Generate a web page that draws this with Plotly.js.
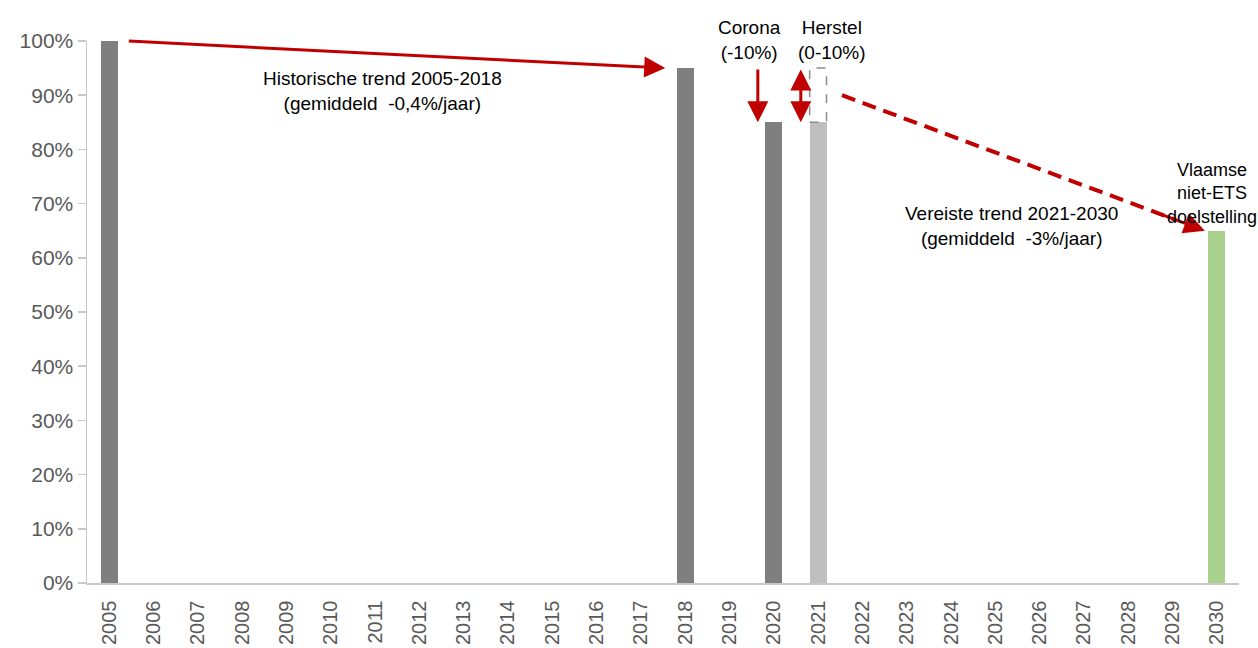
<!DOCTYPE html>
<html><head><meta charset="utf-8">
<script src="https://cdn.plot.ly/plotly-3.0.1.min.js"></script>
<style>html,body{margin:0;padding:0;background:#fff}#chart{width:1258px;height:648px}</style>
</head><body><div id="chart"></div>
<script>
// ---- data ----
const years = [2005,2006,2007,2008,2009,2010,2011,2012,2013,2014,2015,2016,2017,2018,2019,2020,2021,2022,2023,2024,2025,2026,2027,2028,2029,2030];
const barYears = [2005, 2018, 2020, 2021, 2030];
const barValues = [1.00, 0.95, 0.85, 0.85, 0.65];
const barKinds = ['hist', 'hist', 'hist', 'recovery', 'target'];
const recoveryRange = [0.85, 0.95];   // Herstel 0-10%
const dashedTrendStart = 0.90;         // start level of required trend line
const labels = {
  hist: 'Historische trend 2005-2018<br>(gemiddeld  -0,4%/jaar)',
  corona: 'Corona<br>(-10%)',
  herstel: 'Herstel<br>(0-10%)',
  req: 'Vereiste trend 2021-2030<br>(gemiddeld  -3%/jaar)',
  target: 'Vlaamse<br>niet-ETS<br>doelstelling'
};

// ---- styling ----
const kindColor = {hist:'#7f7f7f', recovery:'#bfbfbf', target:'#a9d18e'};
const red = '#c00000';
const bw = 0.38;
const font = 'Liberation Sans, Arial, sans-serif';

const val = y => barValues[barYears.indexOf(y)];

const traces = [{
  type:'bar', x: barYears, y: barValues, width: bw,
  marker:{color: barKinds.map(k => kindColor[k])},
  hoverinfo:'skip'
}];

// dashed required trend line (2021 -> 2030)
const dStart = [2021 + 0.54, dashedTrendStart];
const dEnd = [2030 - 0.27, val(2030)];
const frac = 0.92;
traces.push({
  type:'scatter', mode:'lines',
  x:[dStart[0], dStart[0] + (dEnd[0]-dStart[0])*frac],
  y:[dStart[1], dStart[1] + (dEnd[1]-dStart[1])*frac],
  line:{color:red, width:4, dash:'14px,8px'}, hoverinfo:'skip'
});

const arrowBase = {showarrow:true, arrowhead:2, arrowsize:1.4, arrowwidth:3, arrowcolor:red,
  xref:'x', yref:'y', axref:'x', ayref:'y', text:''};

const annotations = [
  Object.assign({}, arrowBase, {x:2018 - 0.45, y:val(2018), ax:2005 + 0.41, ay:val(2005)}),
  Object.assign({}, arrowBase, {x:2019.64, y:val(2020), ax:2019.64, ay:val(2018)}),
  Object.assign({}, arrowBase, {x:2020.61, y:recoveryRange[0], ax:2020.61, ay:recoveryRange[1], arrowside:'end+start'}),
  Object.assign({}, arrowBase, {x:dEnd[0], y:dEnd[1],
    ax:dStart[0] + (dEnd[0]-dStart[0])*0.85, ay:dStart[1] + (dEnd[1]-dStart[1])*0.85}),
];
const txt = (t, x, y, size) => ({text:t, x:x, y:y, xref:'x', yref:'paper', showarrow:false,
  font:{family:font, size:size || 19, color:'#000'}, xanchor:'center', yanchor:'middle', align:'center'});
annotations.push(txt(labels.hist, 2011.18, 0.908));
annotations.push(txt(labels.corona, 2019.46, 1.002));
annotations.push(txt(labels.herstel, 2021.31, 1.002));
annotations.push(txt(labels.req, 2025.37, 0.659));
annotations.push(txt(labels.target, 2029.88, 0.718, 18));

const shapes = [{
  type:'rect', xref:'x', yref:'y',
  x0: 2021 - bw/2, x1: 2021 + bw/2, y0: recoveryRange[0], y1: recoveryRange[1],
  line:{color:'#8c8c8c', width:1.5, dash:'dash'}, fillcolor:'rgba(0,0,0,0)'
}];

const layout = {
  width:1258, height:648,
  margin:{l:87, r:19, t:41, b:65},
  paper_bgcolor:'#fff', plot_bgcolor:'#fff',
  showlegend:false, bargap:0,
  font:{family:font, color:'#595959'},
  xaxis:{
    range:[2004.5, 2030.5], tickvals: years, ticktext: years.map(String),
    tickangle:-90, tickfont:{size:20, color:'#595959'},
    showgrid:false, zeroline:false, showline:true, linecolor:'#c8c8c8', linewidth:1.5,
    ticks:'outside', ticklen:8, tickcolor:'rgba(0,0,0,0)'
  },
  yaxis:{
    range:[0, 1], dtick:0.1, tickformat:'.0%',
    tickfont:{size:21, color:'#595959'},
    showgrid:false, zeroline:false, showline:true, linecolor:'#c8c8c8', linewidth:1.5,
    ticks:'outside', ticklen:8, tickcolor:'#c8c8c8', tickwidth:1.5
  },
  annotations: annotations, shapes: shapes
};

Plotly.newPlot('chart', traces, layout, {displayModeBar:false, staticPlot:true});
</script></body></html>
